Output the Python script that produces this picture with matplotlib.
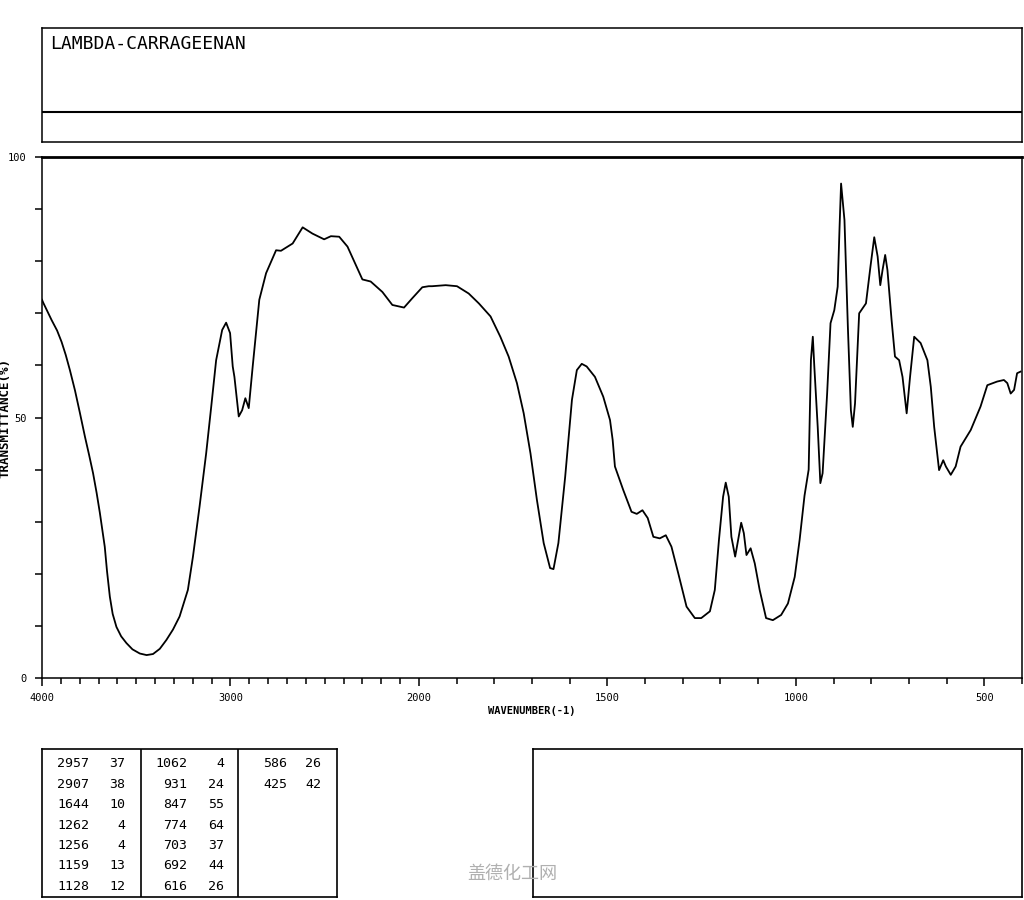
import numpy as np
import matplotlib
matplotlib.use('Agg')
import matplotlib.pyplot as plt
from matplotlib.ticker import FixedLocator, NullFormatter

# spectrum (wavenumber cm-1, transmittance %)
wavenumber = [4000, 3993, 3970, 3949, 3920, 3896, 3874, 3852, 3825, 3799, 3772, 3750, 3729,
              3710, 3693, 3667, 3655, 3640, 3625, 3605, 3580, 3552, 3520, 3481, 3445, 3411,
              3375, 3340, 3305, 3270, 3226, 3199, 3164, 3129, 3102, 3076, 3044,
              3023, 3002, 2988, 2979, 2956, 2938, 2921, 2903, 2882, 2847, 2811, 2758,
              2732, 2670, 2617, 2565, 2503, 2467, 2423, 2379, 2335, 2300, 2256, 2194,
              2141, 2079, 2035, 1991, 1974, 1965, 1929, 1899, 1868, 1841, 1810, 1784,
              1762, 1740, 1722, 1704, 1687, 1669, 1652, 1643, 1630, 1612, 1594, 1581,
              1568, 1555, 1533, 1511, 1493, 1486, 1480, 1458, 1436, 1422, 1407, 1393,
              1378, 1361, 1345, 1330, 1312, 1290, 1268, 1251, 1228, 1215, 1204, 1193,
              1186, 1178, 1171, 1161, 1153, 1145, 1138, 1131, 1120, 1109, 1096, 1079,
              1061, 1039, 1021, 1003, 990, 977, 966, 960, 955, 951, 942, 935, 929, 917,
              908, 898, 889, 884, 880, 871, 862, 854, 849, 843, 832, 814, 802, 792, 783,
              776, 770, 763, 757, 746, 737, 726, 717, 706, 697, 686, 669, 651, 642, 633,
              620, 609, 602, 589, 576, 563, 536, 510, 492, 466, 448, 439, 430, 421, 413, 404]
transmittance = [72.6, 72.0, 70.3, 68.7, 66.7, 64.5, 62.0, 59.1, 55.2, 50.9, 46.3, 42.8, 39.3,
                 35.5, 31.7, 25.2, 20.5, 15.6, 12.3, 9.8, 8.0, 6.7, 5.5, 4.7, 4.4, 4.6,
                 5.6, 7.3, 9.3, 11.8, 16.9, 23.3, 32.9, 43.1, 52.1, 61.0, 66.8,
                 68.2, 66.2, 59.8, 57.8, 50.2, 51.4, 53.7, 51.8, 59.8, 72.6, 77.7, 82.1,
                 82.0, 83.4, 86.5, 85.3, 84.2, 84.8, 84.7, 82.8, 79.3, 76.5, 76.1, 74.1,
                 71.6, 71.1, 72.9, 75.0, 75.2, 75.2, 75.4, 75.2, 73.8, 71.9, 69.4, 65.5,
                 61.7, 56.6, 50.8, 43.1, 34.2, 25.9, 21.1, 20.9, 25.9, 38.6, 53.4, 59.1,
                 60.3, 59.8, 57.8, 54.0, 49.5, 45.7, 40.6, 36.1, 31.9, 31.5, 32.2, 30.7,
                 27.1, 26.8, 27.4, 25.2, 20.1, 13.7, 11.5, 11.5, 12.8, 16.9, 26.5, 34.8,
                 37.5, 34.8, 27.1, 23.3, 26.5, 29.8, 27.8, 23.6, 24.9, 22.0, 16.9, 11.5,
                 11.1, 12.1, 14.3, 19.4, 26.5, 35.0, 40.0, 61.0, 65.5, 59.8, 48.2, 37.4, 39.3, 54.6,
                 68.1, 70.6, 75.1, 86.6, 94.9, 87.9, 67.4, 51.4, 48.2, 52.7, 70.0, 71.9, 79.0, 84.6, 80.9,
                 75.4, 78.3, 81.2, 78.3, 68.7, 61.7, 61.0, 57.8, 50.8, 57.8, 65.5, 64.3, 61.0, 55.9, 48.2,
                 39.9, 41.8, 40.6, 39.0, 40.6, 44.4, 47.6, 52.1, 56.2, 56.9, 57.2, 56.6, 54.6, 55.3, 58.5, 58.8]

# peak table
peak_wn = [2957, 2907, 1644, 1262, 1256, 1159, 1128,
           1062, 931, 847, 774, 703, 692, 616,
           586, 425]
peak_int = [37, 38, 10, 4, 4, 13, 12,
            4, 24, 55, 64, 37, 44, 26,
            26, 42]

title = 'LAMBDA-CARRAGEENAN'
x_major = [4000, 3000, 2000, 1500, 1000, 500]

mono = 'DejaVu Sans Mono'
W, H = 1024, 900
fig = plt.figure(figsize=(W / 100, H / 100), dpi=100)


def box(l, t, r, b):
    return fig.add_axes([l / W, 1 - b / H, (r - l) / W, (b - t) / H])


def fwd(w):
    w = np.asarray(w, float)
    return np.where(w >= 2000, 2000 + (w - 2000) / 2, w)


def inv(g):
    g = np.asarray(g, float)
    return np.where(g >= 2000, 2000 + 2 * (g - 2000), g)


# title box
tb = box(42, 28, 1022, 142)
tb.set_xticks([])
tb.set_yticks([])
tb.axhline(30 / 114, color='black', lw=1.5)
tb.text(8 / 980, 1 - 16 / 114, title, transform=tb.transAxes, fontsize=13,
        family=mono, va='center', ha='left')
for s in tb.spines.values():
    s.set_linewidth(1.1)

# spectrum
ax = box(42, 157, 1022, 678)
ax.set_xscale('function', functions=(fwd, inv))
ax.plot(wavenumber, transmittance, color='black', lw=1.3)
ax.set_xlim(4000, 400)
ax.set_ylim(0, 100)
ax.xaxis.set_major_locator(FixedLocator(x_major))
ax.xaxis.set_minor_locator(FixedLocator(np.arange(400, 4001, 100)))
ax.xaxis.set_minor_formatter(NullFormatter())
ax.set_xticklabels([str(v) for v in x_major])
ax.yaxis.set_major_locator(FixedLocator([0, 50, 100]))
ax.yaxis.set_minor_locator(FixedLocator(np.arange(0, 101, 10)))
ax.set_yticklabels(['0', '50', '100'])
ax.tick_params(axis='both', which='both', direction='out', width=1.1, labelsize=7.5)
ax.tick_params(axis='x', which='major', length=6, pad=5)
ax.tick_params(axis='x', which='minor', length=4)
ax.tick_params(axis='y', which='both', length=5, pad=6)
for lab in ax.get_xticklabels() + ax.get_yticklabels():
    lab.set_family(mono)
for s in ax.spines.values():
    s.set_linewidth(1.1)
ax.spines['top'].set_linewidth(2)
ax.set_xlabel('WAVENUMBER(-1)', family=mono, fontsize=7.5, fontweight='bold', labelpad=2)
fig.text(5 / W, 1 - 418 / H, 'TRANSMITTANCE(%)', rotation=90, family=mono,
         fontsize=9, fontweight='bold', ha='center', va='center')

# peak table
pt = box(42, 749, 337, 897)
pt.set_xlim(42, 337)
pt.set_ylim(897, 749)
pt.set_xticks([])
pt.set_yticks([])
pt.axvline(141, color='black', lw=1.2)
pt.axvline(238, color='black', lw=1.2)
col_x = [(89, 125), (187, 224), (287, 321)]
for i, (w, v) in enumerate(zip(peak_wn, peak_int)):
    c, r = divmod(i, 7)
    y = 764 + r * 20.4
    pt.text(col_x[c][0], y, str(w), ha='right', va='center', family=mono, fontsize=9.5)
    pt.text(col_x[c][1], y, str(v), ha='right', va='center', family=mono, fontsize=9.5)
for s in pt.spines.values():
    s.set_linewidth(1.2)

# empty box on the right
eb = box(533, 749, 1022, 897)
eb.set_xticks([])
eb.set_yticks([])
for s in eb.spines.values():
    s.set_linewidth(1.2)

fig.text(512 / W, 1 - 874 / H, '盖德化工网', family=['Noto Sans CJK SC', 'DejaVu Sans'],
         fontsize=13, color='#b0b0b0', ha='center', va='center')

fig.savefig('out.png', dpi=100)
